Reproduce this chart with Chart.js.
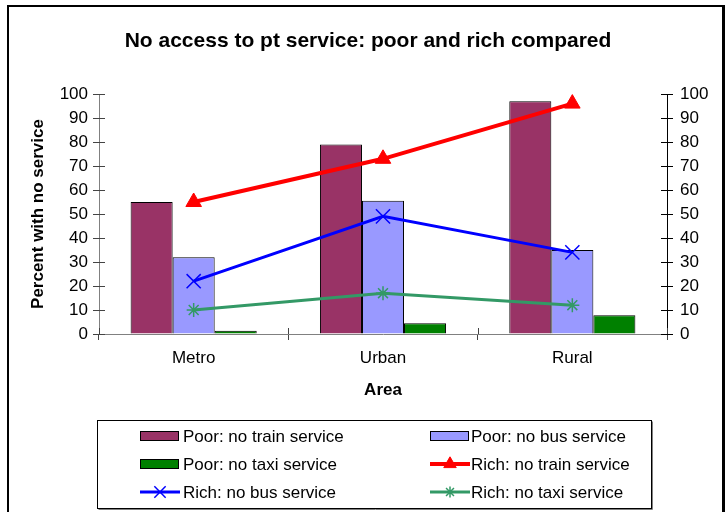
<!DOCTYPE html>
<html>
<head>
<meta charset="utf-8">
<script src="https://cdn.jsdelivr.net/npm/chart.js@4.4.1/dist/chart.umd.min.js"></script>
<style>
  html, body { margin: 0; padding: 0; background: #fff; }
  #wrap { position: relative; width: 726px; height: 512px; overflow: hidden; }
  #frame { position: absolute; left: 7px; top: 5px; width: 713px; height: 600px;
           border: 2px solid #000; border-right-width: 3px; }
  #c { position: absolute; left: 0; top: 0; }
</style>
</head>
<body>
<div id="wrap"><div id="frame"></div><canvas id="c" width="726" height="512"></canvas></div>
<script>
// Categories and series (percent of households with no service)
const areas = ['Metro', 'Urban', 'Rural'];
const poorTrain = [55, 79, 97];
const poorBus = [32, 55.5, 35];
const poorTaxi = [1.4, 4.5, 7.8];
const richTrain = [55, 73, 96];
const richBus = [22, 49, 34];
const richTaxi = [10, 17, 12];
const yTickValues = [0, 10, 20, 30, 40, 50, 60, 70, 80, 90, 100];

const FONT = "'Liberation Sans', Arial, sans-serif";
const FS = 17;
Chart.defaults.font.family = FONT;
Chart.defaults.font.size = FS;
Chart.defaults.color = '#000';

const datasets = [
  { type: 'bar', label: 'Poor: no train service', data: poorTrain, backgroundColor: '#993366',
    borderColor: '#000', borderWidth: 1, order: 1 },
  { type: 'bar', label: 'Poor: no bus service', data: poorBus, backgroundColor: '#9999FF',
    borderColor: '#000', borderWidth: 1, order: 1 },
  { type: 'bar', label: 'Poor: no taxi service', data: poorTaxi, backgroundColor: '#008000',
    borderColor: '#000', borderWidth: 1, order: 1 },
  { type: 'line', label: 'Rich: no train service', data: richTrain, borderColor: '#FF0000',
    backgroundColor: '#FF0000', borderWidth: 4, pointStyle: 'triangle', pointRadius: 9,
    pointBorderWidth: 1, pointBackgroundColor: '#FF0000', pointBorderColor: '#FF0000', order: 0 },
  { type: 'line', label: 'Rich: no bus service', data: richBus, borderColor: '#0000FF',
    backgroundColor: '#0000FF', borderWidth: 3, pointStyle: 'crossRot', pointRadius: 10,
    pointBorderWidth: 1.5, pointBorderColor: '#0000FF', order: 0 },
  { type: 'line', label: 'Rich: no taxi service', data: richTaxi, borderColor: '#339966',
    backgroundColor: '#339966', borderWidth: 3, pointStyle: 'star', pointRadius: 7,
    pointBorderWidth: 1.5, pointBorderColor: '#339966', order: 0 }
];

// Small tick marks on the inner side of each axis (ticks cross the axis line)
const innerTicks = {
  id: 'innerTicks',
  beforeDatasetsDraw(chart) {
    const { ctx, chartArea, scales } = chart;
    const len = 6;
    ctx.save();
    ctx.lineWidth = 1;
    ctx.strokeStyle = '#444';
    scales.y.ticks.forEach(t => {
      const py = Math.round(scales.y.getPixelForValue(t.value)) + 0.5;
      ctx.beginPath(); ctx.moveTo(chartArea.left, py); ctx.lineTo(chartArea.left + len, py); ctx.stroke();
    });
    ctx.strokeStyle = '#000';
    scales.y2.ticks.forEach(t => {
      const py = Math.round(scales.y2.getPixelForValue(t.value)) + 0.5;
      ctx.beginPath(); ctx.moveTo(chartArea.right - len, py); ctx.lineTo(chartArea.right, py); ctx.stroke();
    });
    ctx.strokeStyle = '#444';
    for (let i = 0; i <= areas.length; i++) {
      const px = Math.round(scales.x.getPixelForValue(i - 0.5)) + 0.5;
      ctx.beginPath(); ctx.moveTo(px, chartArea.bottom - len); ctx.lineTo(px, chartArea.bottom); ctx.stroke();
    }
    ctx.restore();
  }
};

// Boxed two-column legend under the plot
const boxLegend = {
  id: 'boxLegend',
  afterDraw(chart) {
    const ctx = chart.ctx;
    const box = { x: 97.5, y: 420.5, w: 554, h: 88 };
    ctx.save();
    ctx.strokeStyle = '#808080';
    ctx.lineWidth = 1;
    ctx.beginPath();
    ctx.moveTo(box.x + 1, box.y + box.h + 1); ctx.lineTo(box.x + box.w + 1, box.y + box.h + 1);
    ctx.lineTo(box.x + box.w + 1, box.y + 1);
    ctx.stroke();
    ctx.strokeStyle = '#000';
    ctx.strokeRect(box.x, box.y, box.w, box.h);

    const rows = [436, 464, 492];
    const cols = [{ sx: 140, ex: 178, tx: 183 }, { sx: 430, ex: 468, tx: 471 }];
    ctx.font = FS + 'px ' + FONT;
    ctx.textBaseline = 'middle';
    ctx.textAlign = 'left';
    chart.data.datasets.forEach((ds, i) => {
      const c = cols[i % 2];
      const y = rows[Math.floor(i / 2)];
      if (ds.type === 'bar') {
        ctx.fillStyle = ds.backgroundColor;
        ctx.fillRect(c.sx, y - 4, c.ex - c.sx, 8);
        ctx.strokeStyle = '#000';
        ctx.lineWidth = 1;
        ctx.strokeRect(c.sx + 0.5, y - 4.5, c.ex - c.sx, 9);
      } else {
        ctx.strokeStyle = ds.borderColor;
        ctx.lineWidth = ds.borderWidth;
        ctx.beginPath(); ctx.moveTo(c.sx, y); ctx.lineTo(c.ex + 2, y); ctx.stroke();
        ctx.fillStyle = ds.pointBackgroundColor || ds.backgroundColor;
        ctx.strokeStyle = ds.pointBorderColor;
        ctx.lineWidth = ds.pointBorderWidth;
        Chart.helpers.drawPoint(ctx, {
          pointStyle: ds.pointStyle, radius: ds.pointRadius * 0.8, rotation: 0,
          borderWidth: ds.pointBorderWidth
        }, (c.sx + c.ex + 2) / 2, y);
      }
      ctx.fillStyle = '#000';
      ctx.fillText(ds.label, c.tx, y + 1);
    });
    ctx.restore();
  }
};

const yTicksFrom = scale => { scale.ticks = yTickValues.map(v => ({ value: v })); };

new Chart(document.getElementById('c'), {
  data: { labels: areas, datasets },
  options: {
    responsive: false,
    devicePixelRatio: 1,
    animation: false,
    layout: { padding: { top: 6, left: 20, right: 10, bottom: 111 } },
    plugins: {
      legend: { display: false },
      tooltip: { enabled: false },
      title: {
        display: true,
        text: 'No access to pt service: poor and rich compared',
        font: { size: 21, weight: 'bold', family: FONT },
        color: '#000',
        padding: { top: 22.4, bottom: 40.4 }
      }
    },
    datasets: {
      bar: { categoryPercentage: 0.666, barPercentage: 1 },
      line: { tension: 0, fill: false }
    },
    scales: {
      x: {
        type: 'category',
        offset: true,
        grid: { display: true, offset: true, drawOnChartArea: false, tickLength: 6, color: '#444' },
        border: { color: '#808080', width: 1 },
        ticks: { padding: 8, color: '#000', font: { size: FS } },
        title: { display: true, text: 'Area', font: { size: FS, weight: 'bold' }, color: '#000',
                 padding: { top: 0, bottom: 0 } },
        afterFit: s => { s.height = 67; }
      },
      y: {
        position: 'left',
        min: 0, max: 100,
        afterBuildTicks: yTicksFrom,
        grid: { drawOnChartArea: false, tickLength: 6, color: '#444' },
        border: { color: '#808080', width: 1 },
        ticks: { padding: 5, color: '#000', font: { size: FS } },
        title: { display: true, text: 'Percent with no service', font: { size: FS, weight: 'bold' },
                 color: '#000', padding: { top: 7.8, bottom: 0 } },
        afterFit: s => { s.width = 79; }
      },
      y2: {
        position: 'right',
        min: 0, max: 100,
        afterBuildTicks: yTicksFrom,
        grid: { drawOnChartArea: false, tickLength: 6, color: '#000' },
        border: { color: '#000', width: 1 },
        ticks: { padding: 7, color: '#000', font: { size: FS } },
        afterFit: s => { s.width = 49; }
      }
    }
  },
  plugins: [innerTicks, boxLegend]
});
</script>
</body>
</html>
